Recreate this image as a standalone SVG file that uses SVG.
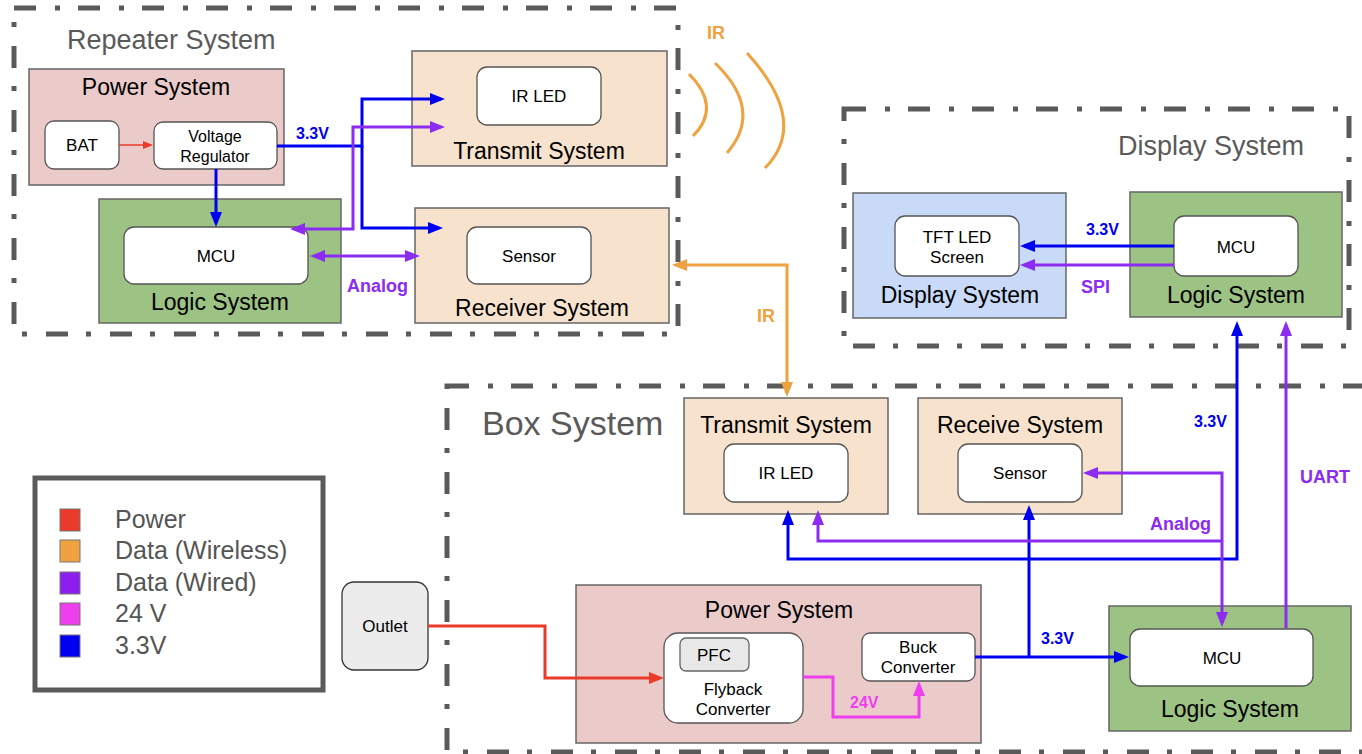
<svg xmlns="http://www.w3.org/2000/svg" width="1362" height="754" viewBox="0 0 1362 754">
<defs>
<style>
text{font-family:"Liberation Sans",Arial,sans-serif}
.title{font-size:27px;fill:#5a5a5a}
.lbl{font-size:23px;fill:#000;text-anchor:middle}
.sm{font-size:17px;fill:#000;text-anchor:middle}
.pw{fill:#eacbc9;stroke:#666;stroke-width:1.5}
.tx{fill:#f7e3cd;stroke:#666;stroke-width:1.5}
.lg{fill:#9cc284;stroke:#666;stroke-width:1.5}
.dp{fill:#c9daf8;stroke:#666;stroke-width:1.5}
.wb{fill:#fff;stroke:#555;stroke-width:1.3}
.grp{fill:none;stroke:#5a5a5a;stroke-width:5;stroke-dasharray:22 19 5 18}
.c{fill:none;stroke-width:3}
.cb{stroke:#0000f0}
.cp{stroke:#8c2cf0}
.co{stroke:#f0a140}
.cr{stroke:#ea3a2a}
.cm{stroke:#ee3fee}
.lb{font-weight:bold;font-size:18px}
.lb16{font-weight:bold;font-size:16px}
.legt{font-size:25px;fill:#555}
</style>
<marker id="mb" viewBox="0 0 15 12" markerWidth="15" markerHeight="12" refX="11" refY="6" orient="auto-start-reverse" markerUnits="userSpaceOnUse"><path d="M0,0L15,6L0,12z" fill="#0000f0"/></marker>
<marker id="mp" viewBox="0 0 15 12" markerWidth="15" markerHeight="12" refX="11" refY="6" orient="auto-start-reverse" markerUnits="userSpaceOnUse"><path d="M0,0L15,6L0,12z" fill="#8c2cf0"/></marker>
<marker id="mo" viewBox="0 0 15 12" markerWidth="15" markerHeight="12" refX="11" refY="6" orient="auto-start-reverse" markerUnits="userSpaceOnUse"><path d="M0,0L15,6L0,12z" fill="#f0a140"/></marker>
<marker id="mr" viewBox="0 0 15 12" markerWidth="15" markerHeight="12" refX="11" refY="6" orient="auto-start-reverse" markerUnits="userSpaceOnUse"><path d="M0,0L15,6L0,12z" fill="#ea3a2a"/></marker>
<marker id="mm" viewBox="0 0 15 12" markerWidth="15" markerHeight="12" refX="11" refY="6" orient="auto-start-reverse" markerUnits="userSpaceOnUse"><path d="M0,0L15,6L0,12z" fill="#ee3fee"/></marker>
<marker id="mrs" viewBox="0 0 10 8" markerWidth="10" markerHeight="8" refX="8" refY="4" orient="auto" markerUnits="userSpaceOnUse"><path d="M0,0L10,4L0,8z" fill="#ea3a2a"/></marker>
</defs>
<rect width="1362" height="754" fill="#fff"/>

<g id="groups">
<rect class="grp" x="14" y="8" width="664" height="326"/>
<text class="title" x="67" y="49">Repeater System</text>
<rect class="grp" x="844" y="109" width="505" height="237"/>
<text class="title" x="1118" y="155">Display System</text>
<rect class="grp" x="447" y="386" width="1000" height="366"/>
<text class="title" x="482" y="435" style="font-size:34px">Box System</text>
</g>

<g id="legend">
<rect x="35" y="478" width="288" height="212" fill="#fff" stroke="#5a5a5a" stroke-width="5"/>
<rect x="60" y="509" width="20" height="22" fill="#ea3a2a" stroke="#777"/>
<rect x="60" y="540" width="20" height="22" fill="#f0a140" stroke="#777"/>
<rect x="60" y="572" width="20" height="22" fill="#8c1ef0" stroke="#777"/>
<rect x="60" y="603" width="20" height="22" fill="#ee3fee" stroke="#777"/>
<rect x="60" y="635" width="20" height="22" fill="#0000f0" stroke="#777"/>
<text class="legt" x="115" y="528">Power</text>
<text class="legt" x="115" y="559">Data (Wireless)</text>
<text class="legt" x="115" y="591">Data (Wired)</text>
<text class="legt" x="115" y="622">24 V</text>
<text class="legt" x="115" y="654">3.3V</text>
</g>

<g id="rep-power">
<rect class="pw" x="29" y="69" width="255" height="116"/>
<text class="lbl" x="156" y="95">Power System</text>
</g>
<g id="rep-bat">
<rect class="wb" x="45" y="121" width="74" height="48" rx="9"/>
<text class="sm" x="82" y="151">BAT</text>
</g>
<g id="rep-vreg">
<rect class="wb" x="154" y="122" width="123" height="47" rx="9"/>
<text class="sm" x="215" y="142" style="font-size:16px">Voltage</text>
<text class="sm" x="215" y="162" style="font-size:16px">Regulator</text>
</g>
<g id="rep-logic">
<rect class="lg" x="99" y="199" width="242" height="124"/>
<text class="lbl" x="220" y="310">Logic System</text>
</g>
<g id="rep-mcu">
<rect class="wb" x="124" y="227" width="184" height="57" rx="10"/>
<text class="sm" x="216" y="262">MCU</text>
</g>
<g id="rep-transmit">
<rect class="tx" x="412" y="51" width="255" height="115"/>
<text class="lbl" x="539" y="159">Transmit System</text>
</g>
<g id="rep-irled">
<rect class="wb" x="477" y="67" width="124" height="58" rx="10"/>
<text class="sm" x="539" y="102">IR LED</text>
</g>
<g id="rep-receiver">
<rect class="tx" x="415" y="208" width="254" height="115"/>
<text class="lbl" x="542" y="316">Receiver System</text>
</g>
<g id="rep-sensor">
<rect class="wb" x="467" y="227" width="124" height="57" rx="10"/>
<text class="sm" x="529" y="262">Sensor</text>
</g>

<g id="disp-display">
<rect class="dp" x="853" y="193" width="213" height="125"/>
<text class="lbl" x="960" y="303">Display System</text>
</g>
<g id="disp-tft">
<rect class="wb" x="895" y="216" width="124" height="60" rx="10"/>
<text class="sm" x="957" y="243">TFT LED</text>
<text class="sm" x="957" y="263">Screen</text>
</g>
<g id="disp-logic">
<rect class="lg" x="1130" y="192" width="212" height="125"/>
<text class="lbl" x="1236" y="303">Logic System</text>
</g>
<g id="disp-mcu">
<rect class="wb" x="1174" y="216" width="124" height="60" rx="10"/>
<text class="sm" x="1236" y="253">MCU</text>
</g>

<g id="box-transmit">
<rect class="tx" x="684" y="398" width="204" height="116"/>
<text class="lbl" x="786" y="433">Transmit System</text>
</g>
<g id="box-irled">
<rect class="wb" x="724" y="444" width="124" height="58" rx="10"/>
<text class="sm" x="786" y="479">IR LED</text>
</g>
<g id="box-receive">
<rect class="tx" x="918" y="398" width="204" height="116"/>
<text class="lbl" x="1020" y="433">Receive System</text>
</g>
<g id="box-sensor">
<rect class="wb" x="958" y="444" width="124" height="58" rx="10"/>
<text class="sm" x="1020" y="479">Sensor</text>
</g>
<g id="box-logic">
<rect class="lg" x="1109" y="606" width="242" height="125"/>
<text class="lbl" x="1230" y="717">Logic System</text>
</g>
<g id="box-mcu">
<rect class="wb" x="1130" y="629" width="183" height="57" rx="10"/>
<text class="sm" x="1222" y="664">MCU</text>
</g>
<g id="box-power">
<rect class="pw" x="576" y="585" width="405" height="158"/>
<text class="lbl" x="779" y="618">Power System</text>
</g>
<g id="box-flyback">
<rect class="wb" x="664" y="633" width="139" height="90" rx="14"/>
<text class="sm" x="733" y="695">Flyback</text>
<text class="sm" x="733" y="715">Converter</text>
</g>
<g id="box-pfc">
<rect x="680" y="638" width="69" height="33" rx="6" fill="#e8e8e8" stroke="#666" stroke-width="1.3"/>
<text class="sm" x="714" y="661">PFC</text>
</g>
<g id="box-buck">
<rect class="wb" x="862" y="633" width="113" height="48" rx="8"/>
<text class="sm" x="918" y="653">Buck</text>
<text class="sm" x="918" y="673">Converter</text>
</g>
<g id="outlet">
<rect x="342" y="582" width="86" height="88" rx="12" fill="#ececec" stroke="#333" stroke-width="1.3"/>
<text class="sm" x="385" y="632">Outlet</text>
</g>

<g id="connectors">
<path d="M119,145H151" fill="none" stroke="#ea3a2a" stroke-width="1.5" marker-end="url(#mrs)"/>
<path class="c cb" d="M216,169V223" marker-end="url(#mb)"/>
<path class="c cb" d="M277,146H362V99H441" marker-end="url(#mb)"/>
<path class="c cb" d="M362,146V228H439" marker-end="url(#mb)"/>
<path class="c cp" d="M294,229H353V127H441" marker-start="url(#mp)" marker-end="url(#mp)"/>
<path class="c cp" d="M314,256H416" marker-start="url(#mp)" marker-end="url(#mp)"/>
<path class="c co" d="M676,265H787V393" marker-start="url(#mo)" marker-end="url(#mo)"/>
<path class="c co" d="M689,74Q722,107 693,136"/>
<path class="c co" d="M715,63Q764,110 727,153"/>
<path class="c co" d="M747,53Q810,122 765,168"/>
<path class="c cb" d="M1174,246H1024" marker-end="url(#mb)"/>
<path class="c cp" d="M1174,265H1024" marker-end="url(#mp)"/>
<path class="c cr" d="M428,626H545V678H660" marker-end="url(#mr)"/>
<path class="c cm" d="M803,677H833V717H919V685" marker-end="url(#mm)"/>
<path class="c cb" d="M975,657H1125" marker-end="url(#mb)"/>
<path class="c cb" d="M1029,657V509" marker-end="url(#mb)"/>
<path class="c cb" d="M788,514V559H1237V325" marker-start="url(#mb)" marker-end="url(#mb)"/>
<path class="c cp" d="M818,514V541H1222" marker-start="url(#mp)"/>
<path class="c cp" d="M1087,473H1222V623" marker-start="url(#mp)" marker-end="url(#mp)"/>
<path class="c cp" d="M1286,628V325" marker-end="url(#mp)"/>
</g>

<g id="connector-labels">
<text class="lb16" x="296" y="139" fill="#0000f0">3.3V</text>
<text class="lb" x="347" y="292" fill="#8c2cf0">Analog</text>
<text class="lb" x="707" y="39" fill="#f0a140">IR</text>
<text class="lb" x="757" y="322" fill="#f0a140">IR</text>
<text class="lb16" x="1086" y="235" fill="#0000f0">3.3V</text>
<text class="lb" x="1081" y="293" fill="#8c2cf0">SPI</text>
<text class="lb16" x="1194" y="427" fill="#0000f0">3.3V</text>
<text class="lb" x="1300" y="483" fill="#8c2cf0">UART</text>
<text class="lb" x="1150" y="530" fill="#8c2cf0">Analog</text>
<text class="lb16" x="1041" y="644" fill="#0000f0">3.3V</text>
<text class="lb16" x="850" y="708" fill="#ee3fee">24V</text>
</g>
</svg>
